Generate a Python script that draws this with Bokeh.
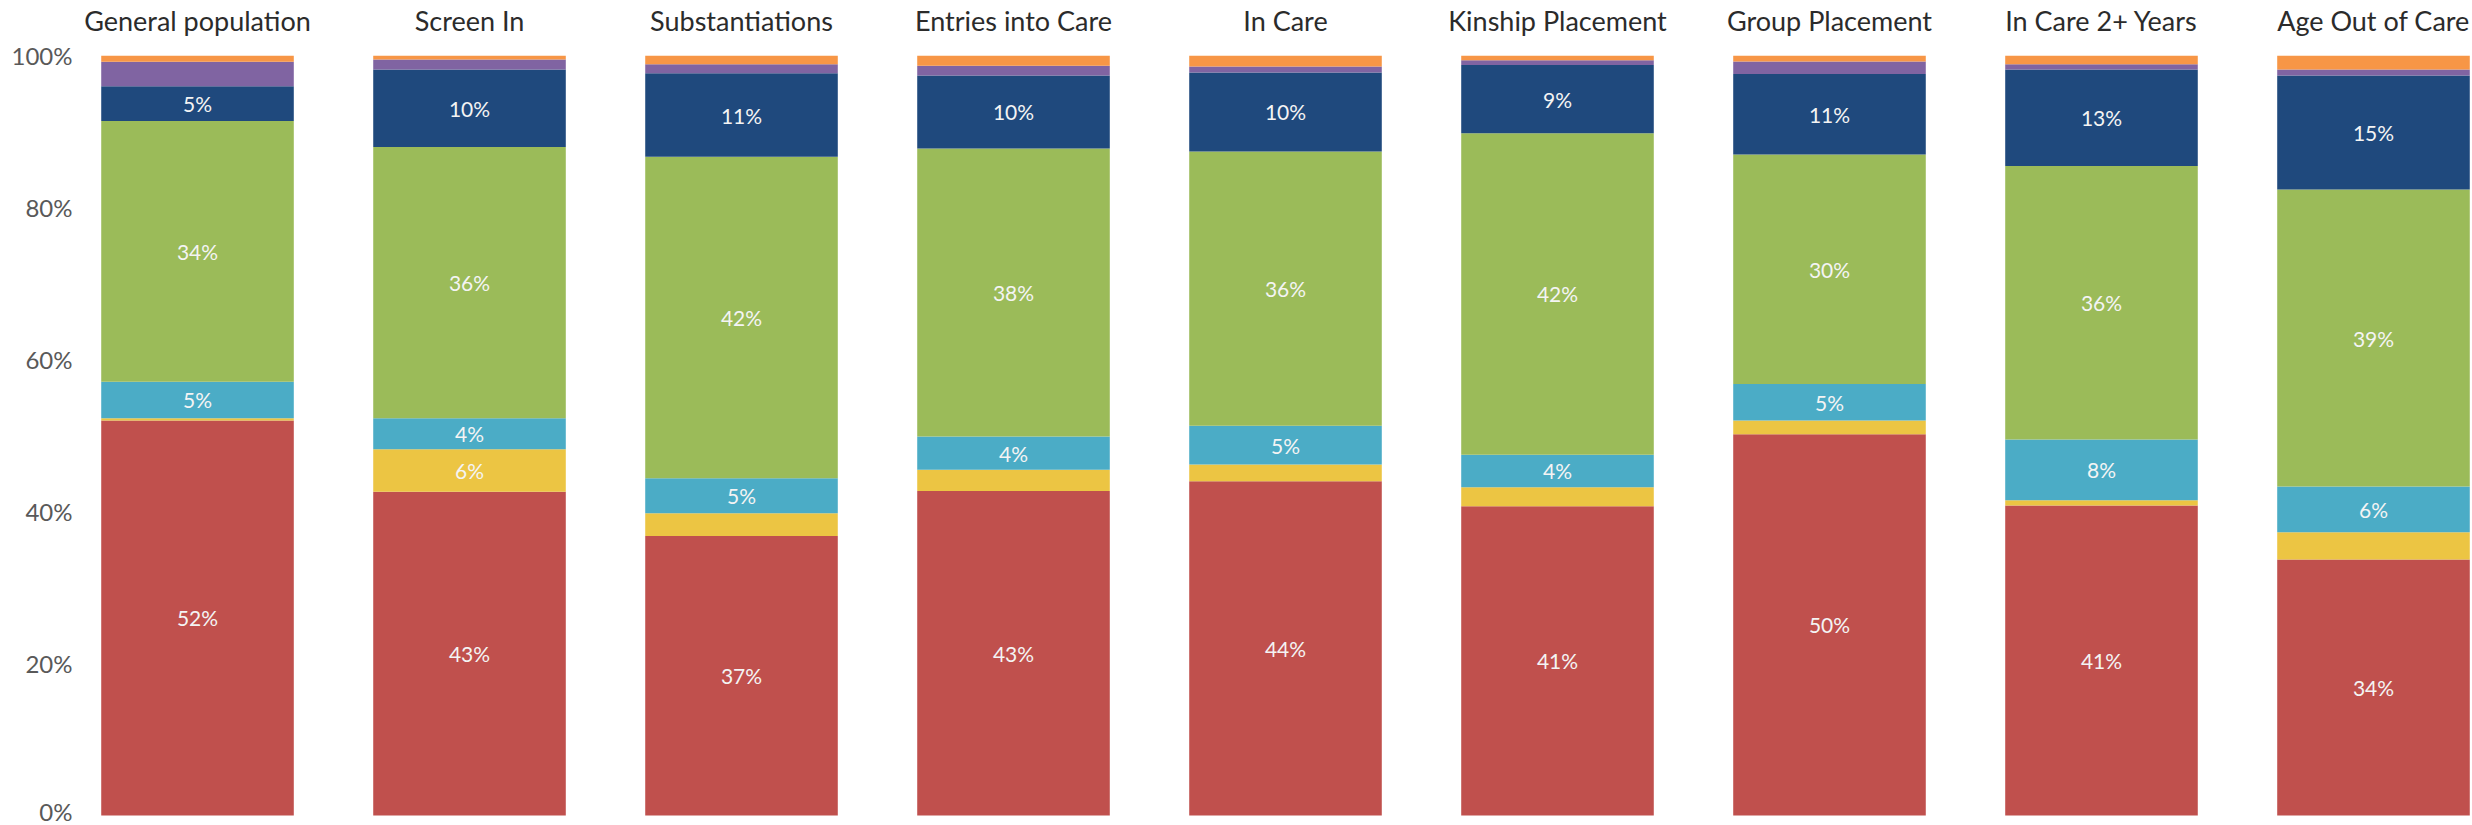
from bokeh.plotting import figure
from bokeh.models import ColumnDataSource, FixedTicker, Range1d
from bokeh.embed import file_html
from bokeh.resources import INLINE
from bokeh.core.properties import value

# ---- data (percent shares, bottom to top) ----
categories = ["General population", "Screen In", "Substantiations", "Entries into Care",
              "In Care", "Kinship Placement", "Group Placement", "In Care 2+ Years",
              "Age Out of Care"]
red    = [52.0, 42.6, 36.8, 42.7, 44.0, 40.7, 50.2, 40.8, 33.7]
yellow = [0.3, 5.6, 3.0, 2.8, 2.2, 2.5, 1.8, 0.7, 3.6]
cyan   = [4.8, 4.1, 4.6, 4.4, 5.1, 4.3, 4.8, 8.0, 6.0]
green  = [34.3, 35.7, 42.3, 37.9, 36.1, 42.3, 30.2, 36.0, 39.1]
blue   = [4.6, 10.2, 11.0, 9.6, 10.4, 9.0, 10.6, 12.7, 15.0]
purple = [3.2, 1.3, 1.2, 1.3, 0.8, 0.6, 1.65, 0.7, 0.8]
orange = [0.8, 0.5, 1.1, 1.3, 1.4, 0.6, 0.75, 1.1, 1.8]
y_ticks = [0, 20, 40, 60, 80, 100]
y_tick_labels = ["0%", "20%", "40%", "60%", "80%", "100%"]

series_names = ["red", "yellow", "cyan", "green", "blue", "purple", "orange"]
series_values = [red, yellow, cyan, green, blue, purple, orange]
colors = ["#C0504D", "#ECC543", "#4BACC6", "#9BBB59", "#1F497D", "#8064A2", "#F79646"]

xs = list(range(len(categories)))
data = {"x": xs}
for n, v in zip(series_names, series_values):
    data[n] = v
src = ColumnDataSource(data)

# label positions derived from the stacked data
lx, ly, lt = [], [], []
for i in xs:
    base = 0.0
    for v in series_values:
        val = v[i]
        if val >= 4:
            lx.append(i)
            ly.append(base + val / 2.0)
            lt.append(f"{int(val + 0.5)}%")
        base += val
lbl_src = ColumnDataSource(dict(x=lx, y=ly, t=lt))

p = figure(width=2472, height=825, output_backend="svg", toolbar_location=None,
           x_axis_location="above",
           x_range=Range1d(-0.4449, 8.364), y_range=Range1d(-1.313, 101.22),
           min_border_left=76, min_border_right=0, min_border_top=44, min_border_bottom=0)
p.outline_line_color = None
p.grid.visible = False
p.background_fill_color = "white"
p.border_fill_color = "white"

p.vbar_stack(series_names, x="x", width=0.708, source=src, color=colors, line_color=None)

p.text(x="x", y="y", text="t", source=lbl_src, text_font=value("Lato"),
       text_font_size="21px", text_color="#F4F4F4", text_align="center",
       text_baseline="middle")

xa = p.xaxis[0]
xa.ticker = FixedTicker(ticks=xs)
xa.major_label_overrides = {i: c for i, c in zip(xs, categories)}
xa.axis_line_color = None
xa.major_tick_line_color = None
xa.minor_tick_line_color = None
xa.major_tick_out = 0
xa.major_tick_in = 0
xa.major_label_standoff = 10
xa.major_label_text_font = "Lato"
xa.major_label_text_font_size = "27px"
xa.major_label_text_color = "#2B2B2B"

ya = p.yaxis[0]
ya.ticker = FixedTicker(ticks=y_ticks)
ya.major_label_overrides = {t: l for t, l in zip(y_ticks, y_tick_labels)}
ya.axis_line_color = None
ya.major_tick_line_color = None
ya.minor_tick_line_color = None
ya.major_tick_out = 0
ya.major_tick_in = 0
ya.major_label_standoff = 4
ya.major_label_text_font = "Lato"
ya.major_label_text_font_size = "24px"
ya.major_label_text_color = "#595959"

open("out.html", "w").write(file_html(p, INLINE))
